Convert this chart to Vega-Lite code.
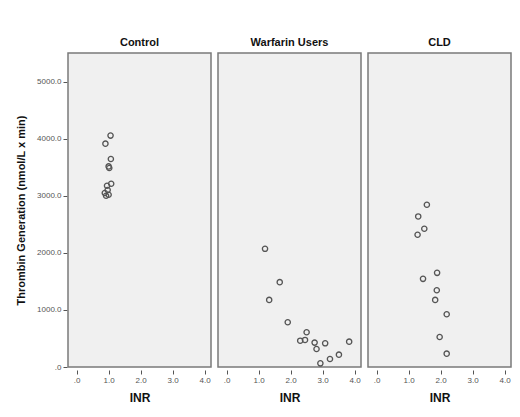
{
  "$schema": "https://vega.github.io/schema/vega-lite/v6.json",
  "padding": {"left": 15, "top": 37, "right": 5, "bottom": 5},
  "background": "white",
  "data": {"values": [
    {"group": "Control", "inr": 0.90, "tg": 3912},
    {"group": "Control", "inr": 1.06, "tg": 4053},
    {"group": "Control", "inr": 1.07, "tg": 3644},
    {"group": "Control", "inr": 1.00, "tg": 3514},
    {"group": "Control", "inr": 1.02, "tg": 3486},
    {"group": "Control", "inr": 1.08, "tg": 3210},
    {"group": "Control", "inr": 0.95, "tg": 3175},
    {"group": "Control", "inr": 0.88, "tg": 3047},
    {"group": "Control", "inr": 0.92, "tg": 3000},
    {"group": "Control", "inr": 1.00, "tg": 3017},
    {"group": "Control", "inr": 0.97, "tg": 3100},
    {"group": "Warfarin Users", "inr": 1.20, "tg": 2070},
    {"group": "Warfarin Users", "inr": 1.66, "tg": 1486},
    {"group": "Warfarin Users", "inr": 1.33, "tg": 1175},
    {"group": "Warfarin Users", "inr": 1.91, "tg": 784},
    {"group": "Warfarin Users", "inr": 2.50, "tg": 609},
    {"group": "Warfarin Users", "inr": 2.30, "tg": 461},
    {"group": "Warfarin Users", "inr": 2.45, "tg": 474},
    {"group": "Warfarin Users", "inr": 2.75, "tg": 427},
    {"group": "Warfarin Users", "inr": 3.08, "tg": 415},
    {"group": "Warfarin Users", "inr": 2.81, "tg": 316},
    {"group": "Warfarin Users", "inr": 3.83, "tg": 444},
    {"group": "Warfarin Users", "inr": 3.51, "tg": 216},
    {"group": "Warfarin Users", "inr": 3.23, "tg": 140},
    {"group": "Warfarin Users", "inr": 2.93, "tg": 64},
    {"group": "CLD", "inr": 1.57, "tg": 2842},
    {"group": "CLD", "inr": 1.30, "tg": 2637},
    {"group": "CLD", "inr": 1.49, "tg": 2421},
    {"group": "CLD", "inr": 1.28, "tg": 2316},
    {"group": "CLD", "inr": 1.89, "tg": 1649},
    {"group": "CLD", "inr": 1.45, "tg": 1544},
    {"group": "CLD", "inr": 1.88, "tg": 1345},
    {"group": "CLD", "inr": 1.83, "tg": 1175},
    {"group": "CLD", "inr": 2.19, "tg": 924},
    {"group": "CLD", "inr": 1.97, "tg": 526},
    {"group": "CLD", "inr": 2.19, "tg": 234}
  ]},
  "facet": {
    "column": {
      "field": "group",
      "type": "nominal",
      "sort": ["Control", "Warfarin Users", "CLD"],
      "title": null,
      "header": {"labelFontWeight": "bold", "labelFontSize": 11, "labelFont": "Liberation Sans", "labelColor": "#111", "labelPadding": 4}
    }
  },
  "spacing": 5,
  "spec": {
    "width": 143,
    "height": 314,
    "mark": {"type": "point", "shape": "circle", "filled": false, "stroke": "#555", "strokeWidth": 1.3, "size": 28, "opacity": 1},
    "encoding": {
      "x": {
        "field": "inr", "type": "quantitative",
        "scale": {"domain": [-0.27, 4.2], "nice": false, "zero": false},
        "axis": {"values": [0, 1, 2, 3, 4], "title": "INR", "labelExpr": "datum.value == 0 ? '.0' : format(datum.value, '.1f')", "grid": false}
      },
      "y": {
        "field": "tg", "type": "quantitative",
        "scale": {"domain": [0, 5500], "nice": false},
        "axis": {"values": [0, 1000, 2000, 3000, 4000, 5000], "title": "Thrombin Generation (nmol/L x min)", "labelExpr": "datum.value == 0 ? '.0' : format(datum.value, '.1f')", "grid": false}
      }
    }
  },
  "config": {
    "view": {"fill": "#f0f0f0", "stroke": "#7a7a7a", "strokeWidth": 1.5},
    "axis": {
      "domain": false,
      "tickColor": "#555",
      "tickSize": 4,
      "labelFont": "Liberation Sans",
      "labelFontSize": 8,
      "labelColor": "#555",
      "titleFont": "Liberation Sans",
      "titleFontWeight": "bold",
      "titleColor": "#111"
    },
    "axisX": {"titleFontSize": 12, "titlePadding": 8, "labelPadding": 2},
    "axisY": {"titleFontSize": 11, "titlePadding": 10, "labelPadding": 2}
  }
}
